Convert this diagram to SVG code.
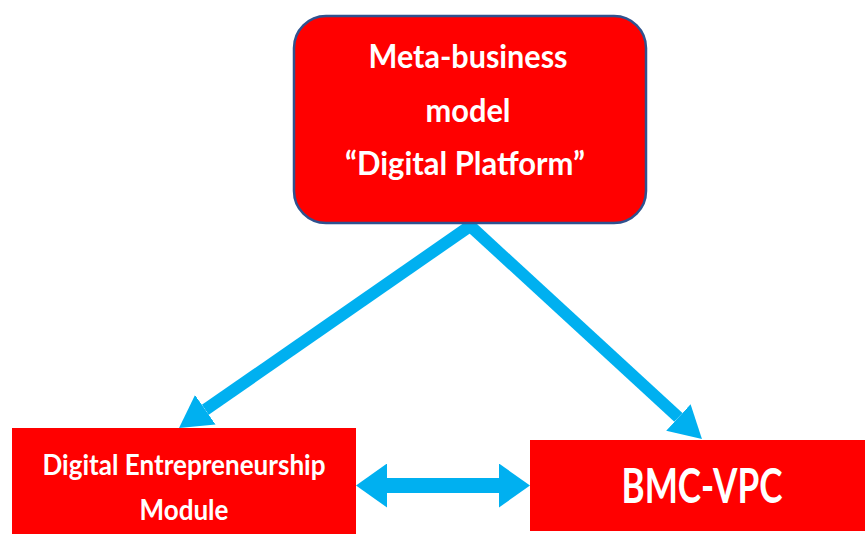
<svg xmlns="http://www.w3.org/2000/svg" width="865" height="534" viewBox="0 0 865 534">
<style>
.box{fill:#FF0000}
.top{stroke:#2F528F;stroke-width:2.5}
.t{font-family:Lato,"Open Sans","Liberation Sans",sans-serif;font-weight:bold;fill:#FFFFFF;text-anchor:middle}
.conn{stroke:#00B0F0;fill:none}
</style>
<defs>
<marker id="ah" markerUnits="userSpaceOnUse" viewBox="0 0 32 36" markerWidth="32" markerHeight="36" refX="0" refY="18" orient="auto-start-reverse">
<path d="M0,0 L32,18 L0,36 Z" fill="#00B0F0"/>
</marker>
<marker id="ah2" markerUnits="userSpaceOnUse" viewBox="0 0 31 44" markerWidth="31" markerHeight="44" refX="0" refY="22" orient="auto-start-reverse">
<path d="M0,0 L31,22 L0,44 Z" fill="#00B0F0"/>
</marker>
</defs>
<rect width="865" height="534" fill="#FFFFFF"/>
<g id="connectors">
<line class="conn" x1="473" y1="224" x2="205.3" y2="409.8" stroke-width="12" marker-end="url(#ah)"/>
<line class="conn" x1="467" y1="223" x2="678.4" y2="417.4" stroke-width="12" marker-end="url(#ah)"/>
<line class="conn" x1="387" y1="485.5" x2="499" y2="485.5" stroke-width="15" marker-start="url(#ah2)" marker-end="url(#ah2)"/>
</g>
<g id="node-meta">
<rect class="box top" x="294" y="16" width="352" height="207" rx="32" ry="32"/>
<text class="t" x="468" y="68" font-size="32" textLength="199" lengthAdjust="spacingAndGlyphs">Meta-business</text>
<text class="t" x="468" y="122" font-size="32" textLength="85" lengthAdjust="spacingAndGlyphs">model</text>
<text class="t" x="465" y="175" font-size="32" textLength="240" lengthAdjust="spacingAndGlyphs">“Digital Platform”</text>
</g>
<g id="node-dem">
<rect class="box" x="12" y="428" width="344" height="110"/>
<text class="t" x="184" y="475" font-size="28" textLength="283" lengthAdjust="spacingAndGlyphs">Digital Entrepreneurship</text>
<text class="t" x="184" y="520" font-size="28" textLength="89" lengthAdjust="spacingAndGlyphs">Module</text>
</g>
<g id="node-bmc">
<rect class="box" x="530" y="440" width="340" height="91"/>
<text class="t" x="702" y="503" font-size="48" textLength="161" lengthAdjust="spacingAndGlyphs">BMC-VPC</text>
</g>
</svg>
